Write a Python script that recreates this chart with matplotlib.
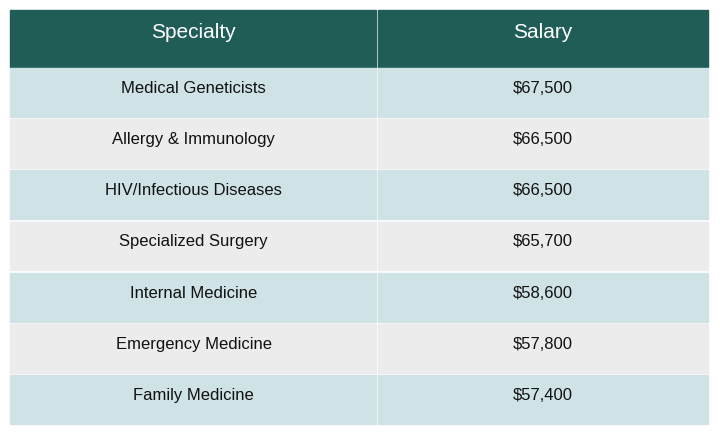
import matplotlib
matplotlib.use("Agg")
import matplotlib.pyplot as plt
from matplotlib.patches import Rectangle

headers = ["Specialty", "Salary"]
specialties = ["Medical Geneticists", "Allergy & Immunology", "HIV/Infectious Diseases",
               "Specialized Surgery", "Internal Medicine", "Emergency Medicine", "Family Medicine"]
salaries = ["$67,500", "$66,500", "$66,500", "$65,700", "$58,600", "$57,800", "$57,400"]

plt.rcParams['font.family'] = ['Liberation Sans', 'DejaVu Sans']
fig = plt.figure(figsize=(7.2, 4.37), dpi=100)
ax = fig.add_axes([0, 0, 1, 1])
ax.set_xlim(0, 720); ax.set_ylim(437, 0); ax.axis('off')

left, mid, right = 10, 377, 708
top, head_h = 10, 57
row_h = 51.2
gap = 2.5
ax.add_patch(Rectangle((left, top), mid - left - 1, head_h, color='#1f5d56'))
ax.add_patch(Rectangle((mid + 1, top), right - mid - 1, head_h, color='#1f5d56'))
for i, h in enumerate(headers):
    cx = (left + mid) / 2 if i == 0 else (mid + right) / 2
    ax.text(cx, top + head_h / 2 - 6, h, color='white', fontsize=15, ha='center', va='center')

y = top + head_h + 1
for i, (s, v) in enumerate(zip(specialties, salaries)):
    col = '#cfe2e6' if i % 2 == 0 else '#ececec'
    h = row_h - gap
    ax.add_patch(Rectangle((left, y), mid - left - 1, h, color=col))
    ax.add_patch(Rectangle((mid + 1, y), right - mid - 1, h, color=col))
    ax.text((left + mid) / 2, y + h / 2 - 4, s, fontsize=12, ha='center', va='center', color='#111111')
    ax.text((mid + right) / 2, y + h / 2 - 4, v, fontsize=12, ha='center', va='center', color='#111111')
    y += row_h

fig.savefig("out.png", dpi=100)
